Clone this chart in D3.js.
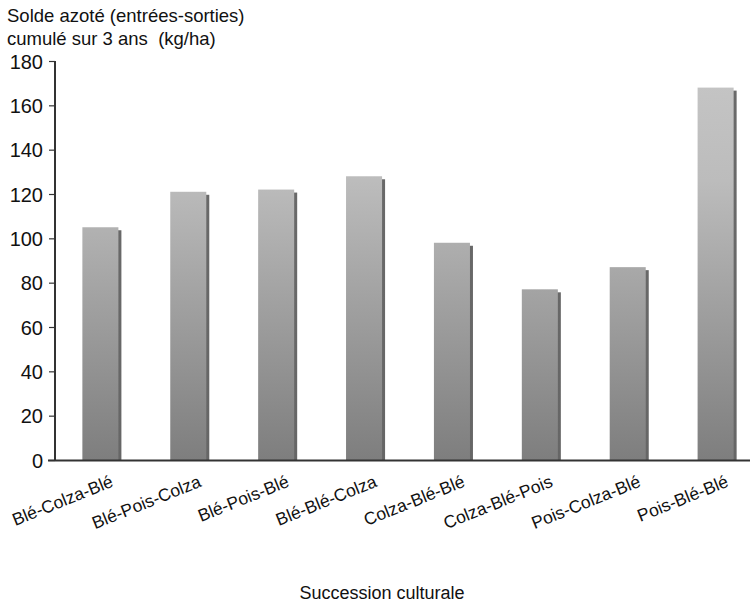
<!DOCTYPE html>
<html><head><meta charset="utf-8">
<script src="https://cdn.jsdelivr.net/npm/d3@7"></script>
<style>body{margin:0;background:#fff}text{font-family:"Liberation Sans",Arial,sans-serif;fill:#111}</style>
</head><body><svg id="c" width="750" height="603"></svg>
<script>
const categories = ["Blé-Colza-Blé","Blé-Pois-Colza","Blé-Pois-Blé","Blé-Blé-Colza","Colza-Blé-Blé","Colza-Blé-Pois","Pois-Colza-Blé","Pois-Blé-Blé"];
const values = [105, 121, 122, 128, 98, 77, 87, 168];
const yTicks = [0, 20, 40, 60, 80, 100, 120, 140, 160, 180];
const yTitle = ["Solde azoté (entrées-sorties)", "cumulé sur 3 ans  (kg/ha)"];
const xTitle = "Succession culturale";

const svg = d3.select("#c");
const x = d3.scaleBand().domain(categories).range([56, 760]).paddingInner(0.59).paddingOuter(0.3);
const y = d3.scaleLinear().domain([0, 180]).range([460, 61]);

const defs = svg.append("defs");
const g = defs.append("linearGradient").attr("id","gr").attr("gradientUnits","userSpaceOnUse")
  .attr("x1",0).attr("x2",0).attr("y1", y(180)).attr("y2", y(0));
g.append("stop").attr("offset","0").attr("stop-color","#c6c6c6");
g.append("stop").attr("offset","0.3").attr("stop-color","#bcbcbc");
g.append("stop").attr("offset","1").attr("stop-color","#7e7e7e");
const gs = defs.append("linearGradient").attr("id","gs").attr("gradientUnits","userSpaceOnUse").attr("x1",0).attr("x2",0).attr("y1", y(180)).attr("y2", y(0));
gs.append("stop").attr("offset","0").attr("stop-color","#6a6a6a");
gs.append("stop").attr("offset","1").attr("stop-color","#666");

// shadows
svg.append("g").selectAll("rect").data(values).join("rect")
  .attr("x", (d,i) => x(categories[i]) + 3)
  .attr("y", d => y(d) + 3)
  .attr("width", x.bandwidth())
  .attr("height", d => y(0) - y(d) - 3)
  .attr("fill", "url(#gs)");
// bars
svg.append("g").selectAll("rect").data(values).join("rect")
  .attr("x", (d,i) => x(categories[i]))
  .attr("y", d => y(d))
  .attr("width", x.bandwidth())
  .attr("height", d => y(0) - y(d))
  .attr("fill", "url(#gr)");

// y axis
const ya = svg.append("g").attr("transform","translate(55,0)")
  .call(d3.axisLeft(y).tickValues(yTicks).tickSize(6).tickPadding(6));
ya.select(".domain").attr("stroke","#333").attr("stroke-width",2).attr("d", `M0,${y(180)}V${y(0)}`);
ya.selectAll(".tick line").attr("stroke","#333").attr("stroke-width",1.2);
ya.selectAll(".tick text").style("font-size","20px").attr("fill","#111").attr("dy","0.36em");

// x axis line
svg.append("line").attr("x1",48).attr("x2",750).attr("y1",y(0)+0.5).attr("y2",y(0)+0.5).attr("stroke","#333").attr("stroke-width",2);

// x labels
svg.append("g").selectAll("text").data(categories).join("text")
  .attr("transform", d => `translate(${x(d) + x.bandwidth()/2 + 14},486) rotate(-22)`)
  .attr("text-anchor","end")
  .style("font-size","17.5px")
  .text(d => d);

// titles
svg.append("g").selectAll("text").data(yTitle).join("text")
  .attr("x", 7).attr("y", (d,i) => 22 + i*23)
  .style("font-size","18.5px").style("white-space","pre").attr("xml:space","preserve").text(d => d);
svg.append("text").attr("x", 382).attr("y", 599).attr("text-anchor","middle").style("font-size","18px").text(xTitle);
</script></body></html>
